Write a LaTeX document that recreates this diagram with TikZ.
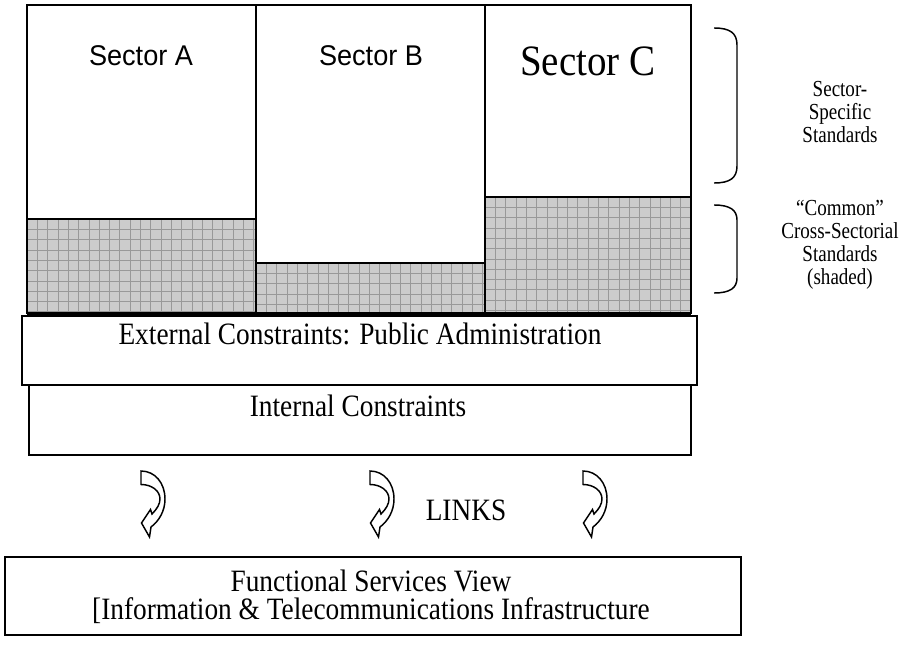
\documentclass[tikz,border=0pt]{standalone}
\usepackage{fontspec}
\setmainfont{Liberation Serif}
\newfontfamily\labelserif[FakeStretch=0.88]{Liberation Serif}
\newfontfamily\bigserif[FakeStretch=0.9]{Liberation Serif}
\newfontfamily\noteserif[FakeStretch=0.83]{Liberation Serif}
\newfontfamily\sectorsans[FakeStretch=0.95]{Liberation Sans}

\begin{document}
\begin{tikzpicture}[x=0.75pt,y=-0.75pt,
  frame/.style={draw=black, line width=1.1pt},
  heavy/.style={draw=black, line width=2.3pt},
  shadefill/.style={fill=black!20},
  gridline/.style={draw=black!40, line width=0.45pt},
  sectorlabel/.style={font=\sectorsans\fontsize{21.4}{24}\selectfont, anchor=base, inner sep=0pt},
  bigsector/.style={font=\bigserif\fontsize{32.5}{36}\selectfont, anchor=base, inner sep=0pt},
  mainlabel/.style={font=\labelserif\fontsize{23.3}{20.6}\selectfont, anchor=base, inner sep=0pt, align=center},
  note/.style={font=\noteserif\fontsize{17.2}{17.2}\selectfont, align=center, inner sep=0pt},
  bracket/.style={draw=black, line width=1.1pt},
  pics/curlyarrow/.style={code={
    \draw[line width=1.1pt, fill=white, line join=miter]
      (0,0) .. controls (14,0) and (24,12) .. (24,28)
            .. controls (24,40) and (18,50) .. (10,56)
      -- (8.5,66) -- (0.5,52) -- (9.5,38.5) -- (11,43)
            .. controls (16,38) and (19,33) .. (19,28)
            .. controls (19,20) and (11,13.5) .. (0,13.5) -- cycle;
  }}
]
\useasboundingbox (0,0) rectangle (906,649);

% shaded common-standards areas with their grid texture
\foreach \xa/\ya/\xb in {27/219/256, 256/263/485, 485/197/691} {
  \fill[shadefill] (\xa,\ya) rectangle (\xb,314);
  \begin{scope}
    \clip (\xa,\ya) rectangle (\xb,314);
    \foreach \g in {0,10.3,...,240}
      \draw[gridline] (\xa+\g,\ya) -- (\xa+\g,314);
    \foreach \g in {0,10.3,...,130}
      \draw[gridline] (\xa,\ya+\g) -- (\xb,\ya+\g);
  \end{scope}
  \draw[frame] (\xa,\ya) -- (\xb,\ya);
}

% sector columns
\draw[frame] (27,314) -- (27,5) -- (691,5) -- (691,314);
\draw[frame] (256,5) -- (256,314);
\draw[frame] (485,5) -- (485,314);

% constraint layers
\draw[frame, fill=white] (29,385) rectangle (691,455);
\draw[frame, fill=white] (22,316) rectangle (697,385);
\draw[heavy] (27,314) -- (691,314);

% functional services box
\draw[frame] (5,557) rectangle (741,635);

% sector labels
\node[sectorlabel] (secA) at (141,66) {Sector A};
\node[sectorlabel] (secB) at (371,66) {Sector B};
\node[bigsector] (secC) at (588,75.5) {Sector C};

% layer labels
\node[mainlabel] (ext) at (360,344) {External Constraints: Public Administration};
\node[mainlabel] (int) at (358,416) {Internal Constraints};
\node[mainlabel, anchor=center] (func) at (371,597)
  {Functional Services View\\{[}Information \& Telecommunications Infrastructure};
\node[mainlabel] (links) at (466,520) {LINKS};

% brackets and their notes
\draw[bracket] (714,28) .. controls (730,28) and (737,33) .. (737,45)
  -- (737,166) .. controls (737,178) and (730,183) .. (714,183);
\draw[bracket] (714,205) .. controls (730,205) and (737,210) .. (737,220)
  -- (737,278) .. controls (737,288) and (730,293) .. (714,293);
\node[note] (specific) at (840,112) {Sector-\\Specific\\Standards};
\node[note] (common) at (840,245) {“Common”\\Cross-Sectorial\\Standards\\(shaded)};

% curved link arrows
\pic at (141,471) {curlyarrow};
\pic at (370,471) {curlyarrow};
\pic at (583,471) {curlyarrow};
\end{tikzpicture}
\end{document}
